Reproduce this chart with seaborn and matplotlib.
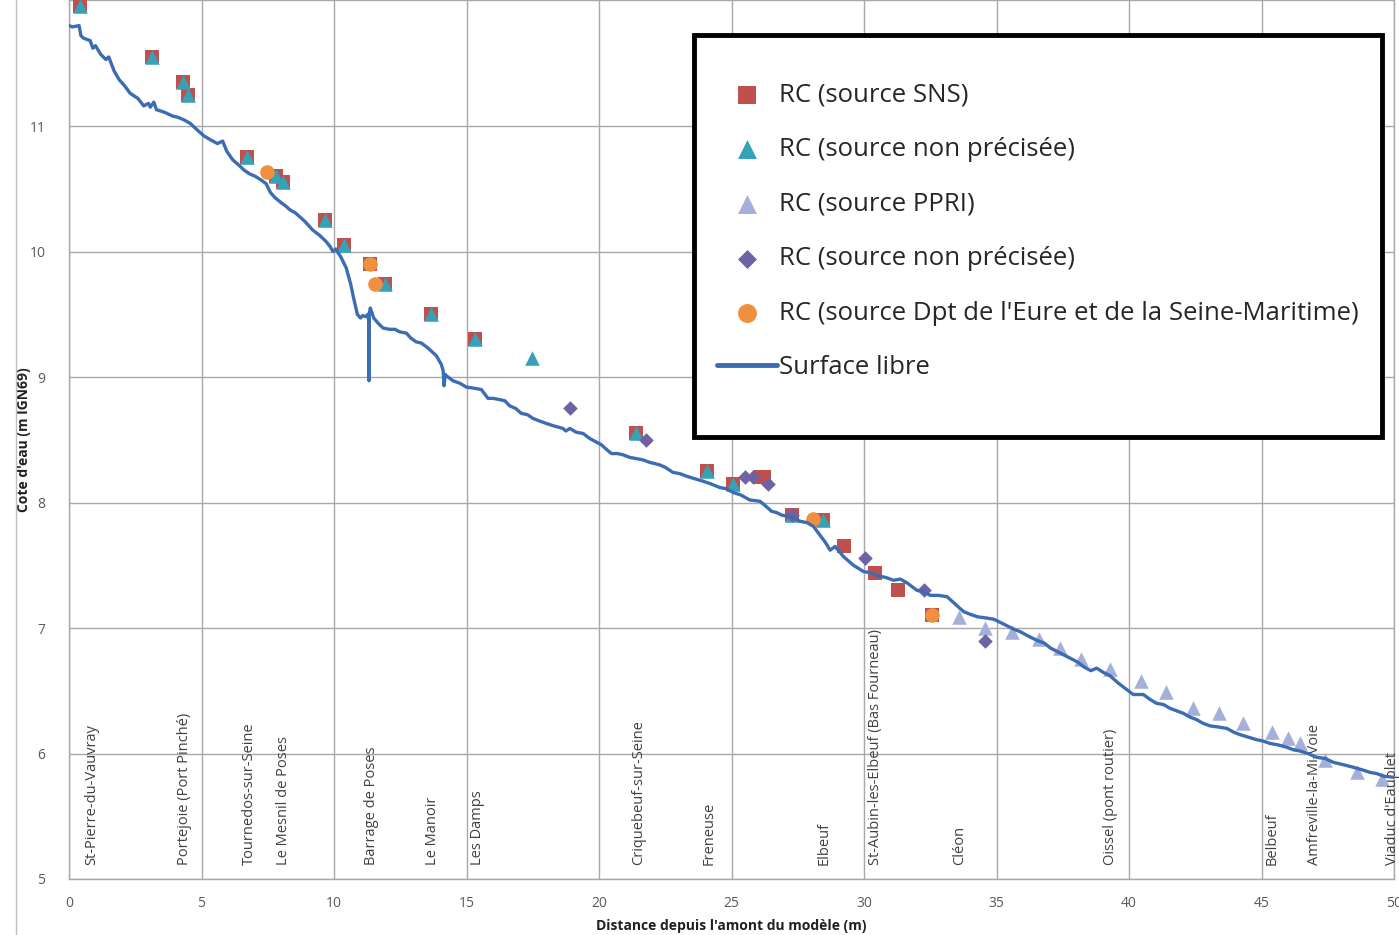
import matplotlib
matplotlib.use("Agg")
import matplotlib.pyplot as plt
from matplotlib.lines import Line2D
from matplotlib.patches import Rectangle
import seaborn as sns

# --- données ---
# relevés RC (source SNS)
sns_x = [0.42, 3.15, 4.29, 4.5, 6.73, 7.81, 8.06, 9.66, 10.38, 11.35, 11.91, 13.67,
         15.33, 21.41, 24.08, 25.06, 26.07, 26.22, 27.27, 28.47, 29.26, 30.4, 31.3, 32.57]
sns_y = [11.96, 11.55, 11.35, 11.25, 10.75, 10.60, 10.55, 10.25, 10.05, 9.90, 9.74, 9.50,
         9.30, 8.55, 8.25, 8.15, 8.20, 8.20, 7.90, 7.86, 7.65, 7.44, 7.30, 7.10]

# RC (source non précisée) - triangles
tri_x = [0.42, 3.15, 4.29, 4.5, 6.73, 7.81, 8.06, 9.66, 10.38, 11.91, 13.67, 15.33,
         17.47, 21.41, 24.08, 25.06, 27.27, 28.47]
tri_y = [11.96, 11.55, 11.35, 11.25, 10.75, 10.60, 10.55, 10.25, 10.05, 9.74, 9.50, 9.30,
         9.15, 8.55, 8.25, 8.15, 7.90, 7.86]

# RC (source PPRI)
ppri_x = [33.57, 34.58, 35.58, 36.6, 37.4, 38.2, 39.3, 40.45, 41.4, 42.4, 43.4, 44.3,
          45.4, 46.0, 46.45, 47.4, 48.6, 49.55]
ppri_y = [7.09, 7.00, 6.97, 6.91, 6.84, 6.75, 6.67, 6.58, 6.49, 6.36, 6.32, 6.24,
          6.17, 6.12, 6.08, 5.95, 5.85, 5.80]

# RC (source non précisée) - losanges
dia_x = [18.89, 21.79, 25.5, 25.82, 26.36, 27.27, 30.04, 32.25, 34.55]
dia_y = [8.75, 8.50, 8.20, 8.20, 8.15, 7.90, 7.56, 7.30, 6.90]

# RC (source Dpt de l'Eure et de la Seine-Maritime)
dpt_x = [7.49, 11.35, 11.53, 28.06, 32.57]
dpt_y = [10.63, 9.90, 9.74, 7.87, 7.10]

# surface libre (modèle)
line_x = [0.0, 0.13, 0.38, 0.45, 0.55, 0.8, 0.9, 1.0, 1.2, 1.39, 1.5, 1.7, 1.89, 2.1,
          2.31, 2.6, 2.82, 3.0, 3.07, 3.2, 3.3, 3.6, 3.9, 4.1, 4.33, 4.58, 4.83, 5.1,
          5.34, 5.6, 5.8, 5.95, 6.18, 6.4, 6.6, 6.8, 7.02, 7.25, 7.44, 7.6, 7.77, 8.0,
          8.19, 8.35, 8.53, 8.9, 9.2, 9.45, 9.7, 9.85, 9.96, 10.07, 10.15, 10.25, 10.46,
          10.63, 10.75, 10.88, 11.0, 11.09, 11.2, 11.28, 11.31, 11.32, 11.33, 11.37, 11.5,
          11.66, 11.85, 12.1, 12.3, 12.48, 12.73, 12.9, 13.1, 13.3, 13.55, 13.86, 14.05, 14.12,
          14.15, 14.2, 14.24, 14.49, 14.75, 14.99, 15.3, 15.56, 15.7, 15.81, 16.0, 16.25,
          16.45, 16.63, 16.85, 17.07, 17.3, 17.51, 17.75, 18.01, 18.3, 18.64, 18.75, 18.9,
          19.14, 19.4, 19.65, 20.09, 20.3, 20.47, 20.7, 20.91, 21.15, 21.41, 21.65, 21.91,
          22.29, 22.5, 22.79, 23.05, 23.3, 23.6, 23.92, 24.2, 24.55, 24.8, 25.06, 25.35,
          25.69, 26.07, 26.3, 26.51, 26.7, 26.89, 27.3, 27.59, 27.85, 28.09, 28.34, 28.55,
          28.72, 28.91, 29.22, 29.6, 29.98, 30.25, 30.49, 30.86, 31.12, 31.37, 31.62, 32.0,
          32.25, 32.5, 32.8, 33.13, 33.39, 33.76, 34.0, 34.27, 34.6, 34.9, 35.28, 35.66,
          35.9, 36.16, 36.54, 36.8, 37.04, 37.5, 37.77, 38.05, 38.3, 38.56, 38.78, 39.0,
          39.28, 39.6, 39.91, 40.16, 40.54, 40.8, 41.04, 41.3, 41.55, 41.8, 42.05, 42.3,
          42.55, 42.8, 43.06, 43.4, 43.69, 43.95, 44.19, 44.5, 44.82, 45.05, 45.32, 45.6,
          45.95, 46.2, 46.45, 46.75, 47.08, 47.4, 47.71, 48.1, 48.47, 48.8, 49.09, 49.35,
          49.6, 50.0]
line_y = [11.80, 11.79, 11.80, 11.72, 11.70, 11.68, 11.62, 11.64, 11.57, 11.53, 11.55, 11.44,
          11.37, 11.32, 11.26, 11.22, 11.16, 11.18, 11.15, 11.19, 11.13, 11.11, 11.08, 11.07,
          11.05, 11.02, 10.97, 10.92, 10.89, 10.86, 10.88, 10.80, 10.73, 10.69, 10.65, 10.62,
          10.60, 10.57, 10.54, 10.47, 10.43, 10.39, 10.36, 10.33, 10.31, 10.24, 10.17, 10.13,
          10.08, 10.04, 10.00, 10.02, 9.99, 9.96, 9.87, 9.74, 9.62, 9.50, 9.47, 9.49, 9.48,
          9.50, 9.45, 8.97, 9.50, 9.55, 9.47, 9.43, 9.39, 9.38, 9.38, 9.36, 9.35, 9.31, 9.28,
          9.27, 9.23, 9.17, 9.10, 9.05, 8.93, 9.02, 9.01, 8.97, 8.95, 8.92, 8.91, 8.90, 8.86,
          8.83, 8.83, 8.82, 8.81, 8.77, 8.75, 8.71, 8.70, 8.67, 8.65, 8.63, 8.61, 8.59, 8.57,
          8.59, 8.56, 8.55, 8.51, 8.46, 8.42, 8.39, 8.39, 8.38, 8.36, 8.35, 8.34, 8.32, 8.30,
          8.28, 8.24, 8.23, 8.21, 8.19, 8.17, 8.15, 8.12, 8.11, 8.08, 8.06, 8.02, 8.01, 7.97,
          7.93, 7.92, 7.90, 7.88, 7.85, 7.84, 7.81, 7.74, 7.68, 7.62, 7.65, 7.57, 7.50, 7.45,
          7.44, 7.42, 7.40, 7.38, 7.39, 7.36, 7.30, 7.29, 7.26, 7.26, 7.25, 7.20, 7.13, 7.11,
          7.09, 7.08, 7.07, 7.03, 6.99, 6.97, 6.94, 6.90, 6.88, 6.84, 6.79, 6.76, 6.73, 6.69,
          6.66, 6.68, 6.65, 6.62, 6.56, 6.51, 6.47, 6.47, 6.43, 6.40, 6.39, 6.36, 6.34, 6.32,
          6.29, 6.27, 6.24, 6.22, 6.21, 6.20, 6.17, 6.15, 6.13, 6.11, 6.10, 6.08, 6.07, 6.05,
          6.03, 6.02, 6.00, 5.97, 5.96, 5.93, 5.91, 5.89, 5.87, 5.85, 5.84, 5.82, 5.81]

# communes le long du bief
towns = ["St-Pierre-du-Vauvray", "Portejoie (Port Pinché)", "Tournedos-sur-Seine",
         "Le Mesnil de Poses", "Barrage de Poses", "Le Manoir", "Les Damps",
         "Criquebeuf-sur-Seine", "Freneuse", "Elbeuf", "St-Aubin-les-Elbeuf (Bas Fourneau)",
         "Cléon", "Oissel (pont routier)", "Belbeuf", "Amfreville-la-Mi-Voie",
         "Viaduc d'Eauplet"]
town_x = [0.87, 4.34, 6.8, 8.1, 11.4, 13.7, 15.4, 21.5, 24.15, 28.5, 30.45, 33.6,
          39.3, 45.4, 47.0, 49.96]

# --- style ---
sns.set_style("whitegrid")
plt.rcParams['font.family'] = ['Open Sans', 'DejaVu Sans']

fig = plt.figure(figsize=(13.99, 9.35), dpi=100)
ax = fig.add_axes([69 / 1399, 56 / 935, 1325 / 1399, 879 / 935])

sns.scatterplot(x=sns_x, y=sns_y, marker='s', color='#C0504D', s=100, linewidth=0,
                label='RC (source SNS)', ax=ax, zorder=3)
sns.scatterplot(x=tri_x, y=tri_y, marker='^', color='#36A2B8', s=110, linewidth=0,
                label='RC (source non précisée)', ax=ax, zorder=3)
sns.scatterplot(x=ppri_x, y=ppri_y, marker='^', color='#A4B0DA', s=110, linewidth=0,
                label='RC (source PPRI)', ax=ax, zorder=3)
sns.scatterplot(x=dia_x, y=dia_y, marker='D', color='#7060A4', s=55, linewidth=0,
                label='RC (source non précisée)', ax=ax, zorder=3)
sns.scatterplot(x=dpt_x, y=dpt_y, marker='o', color='#F0903E', s=110, linewidth=0,
                label="RC (source Dpt de l'Eure et de la Seine-Maritime)", ax=ax, zorder=3)
sns.lineplot(x=line_x, y=line_y, color='#3C6CB2', linewidth=2.4, sort=False,
             estimator=None, label='Surface libre', ax=ax, zorder=4)

# noms des communes
for name, xt in zip(towns, town_x):
    ax.text(xt, 5.11, name, rotation=90, ha='center', va='bottom',
            fontsize=10.5, color='#404040')

ax.set_xlim(0, 50)
ax.set_ylim(5, 12.004)
ax.set_xticks(range(0, 51, 5))
ax.set_yticks(range(5, 12))
ax.grid(True, color='#A8A8A8', linewidth=1)
for sp in ax.spines.values():
    sp.set_color('#A8A8A8')
    sp.set_linewidth(1)
ax.tick_params(axis='both', labelsize=10, labelcolor='#595959', color='#A8A8A8',
               length=5, width=1, direction='out', pad=7)
ax.tick_params(axis='y', pad=12)

ax.set_xlabel("Distance depuis l'amont du modèle (m)", fontsize=10, fontweight='bold',
              color='#202020')
ax.set_ylabel("Cote d'eau (m IGN69)", fontsize=10, fontweight='bold', color='#202020')
ax.xaxis.set_label_coords(0.5, -0.045)
ax.yaxis.set_label_coords(-0.029, 0.5)

# cadre de la légende (noir, épais)
ax.add_patch(Rectangle((0.472, 0.503), 0.519, 0.457, transform=ax.transAxes,
                       facecolor='white', edgecolor='black', linewidth=3.5, zorder=8,
                       clip_on=False))
leg = ax.legend(loc='upper left', bbox_to_anchor=(0.489, 0.906), fontsize=18.5,
                frameon=False, borderpad=0, labelspacing=1.15,
                handlelength=2.33, handletextpad=0.07, markerscale=1.3,
                borderaxespad=0)
leg.set_zorder(10)
for h in leg.get_lines():
    h.set_linewidth(3.5)

# bord de la zone de graphique
fig.add_artist(Line2D([16 / 1399, 16 / 1399], [0, 1], color='#BFBFBF', lw=1,
                      transform=fig.transFigure))

fig.savefig("out.png", dpi=100)
